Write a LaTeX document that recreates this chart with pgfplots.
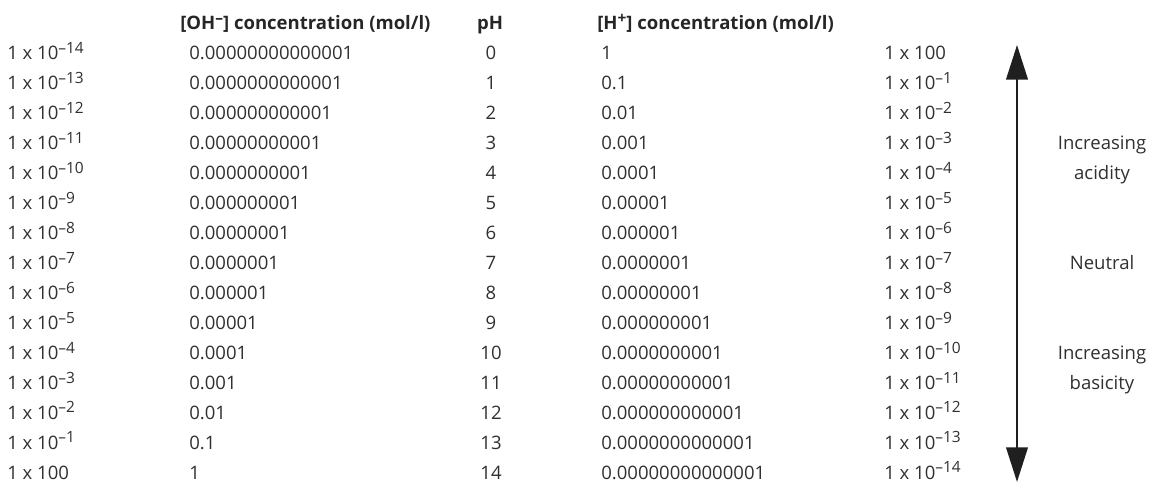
\documentclass[border=0pt]{standalone}
\usepackage{pgfplots}
\pgfplotsset{compat=1.18}
\usepackage{pgfplotstable}
\usepackage{fontspec}
\setmainfont{Open Sans}
\usetikzlibrary{arrows.meta}
\definecolor{txt}{HTML}{303030}
\definecolor{head}{HTML}{262626}
\newcommand{\sps}[1]{\raisebox{0.62ex}{\fontsize{11.6}{12}\selectfont #1}}

\pgfplotstableread[col sep=comma]{
ph,ohsci,ohdec,hdec,hsci
0,{1 x 10\sps{–14}},{0.00000000000001},{1},{1 x 100}
1,{1 x 10\sps{–13}},{0.0000000000001},{0.1},{1 x 10\sps{–1}}
2,{1 x 10\sps{–12}},{0.000000000001},{0.01},{1 x 10\sps{–2}}
3,{1 x 10\sps{–11}},{0.00000000001},{0.001},{1 x 10\sps{–3}}
4,{1 x 10\sps{–10}},{0.0000000001},{0.0001},{1 x 10\sps{–4}}
5,{1 x 10\sps{–9}},{0.000000001},{0.00001},{1 x 10\sps{–5}}
6,{1 x 10\sps{–8}},{0.00000001},{0.000001},{1 x 10\sps{–6}}
7,{1 x 10\sps{–7}},{0.0000001},{0.0000001},{1 x 10\sps{–7}}
8,{1 x 10\sps{–6}},{0.000001},{0.00000001},{1 x 10\sps{–8}}
9,{1 x 10\sps{–5}},{0.00001},{0.000000001},{1 x 10\sps{–9}}
10,{1 x 10\sps{–4}},{0.0001},{0.0000000001},{1 x 10\sps{–10}}
11,{1 x 10\sps{–3}},{0.001},{0.00000000001},{1 x 10\sps{–11}}
12,{1 x 10\sps{–2}},{0.01},{0.000000000001},{1 x 10\sps{–12}}
13,{1 x 10\sps{–1}},{0.1},{0.0000000000001},{1 x 10\sps{–13}}
14,{1 x 100},{1},{0.00000000000001},{1 x 10\sps{–14}}
}\phtable

\pgfplotstableread[col sep=comma]{
row,label
3,Increasing
4,acidity
7,Neutral
10,Increasing
11,basicity
}\sidetable

\begin{document}
\begin{tikzpicture}
\begin{axis}[
  scale only axis,
  x=0.75pt, y=22.47pt,
  xmin=0, xmax=1151, ymin=-1.769, ymax=14.553,
  y dir=reverse,
  hide axis, clip=false,
  point meta=explicit symbolic,
  every node near coord/.append style={font=\fontsize{13.9}{16}\selectfont, text=txt, inner sep=0pt},
]
\path (rel axis cs:0,0) rectangle (rel axis cs:1,1);

% column 1: [OH-] scientific
\addplot[draw=none, mark=none, nodes near coords,
  every node near coord/.append style={anchor=base west}]
  table[x expr=7, y expr=\thisrow{ph}+0.22, meta=ohsci] {\phtable};
% column 2: [OH-] decimal
\addplot[draw=none, mark=none, nodes near coords,
  every node near coord/.append style={anchor=base west}]
  table[x expr=189, y expr=\thisrow{ph}+0.22, meta=ohdec] {\phtable};
% column 3: pH
\addplot[draw=none, mark=none, nodes near coords,
  every node near coord/.append style={anchor=base}]
  table[x expr=491, y expr=\thisrow{ph}+0.22, meta=ph] {\phtable};
% column 4: [H+] decimal
\addplot[draw=none, mark=none, nodes near coords,
  every node near coord/.append style={anchor=base west}]
  table[x expr=601, y expr=\thisrow{ph}+0.22, meta=hdec] {\phtable};
% column 5: [H+] scientific
\addplot[draw=none, mark=none, nodes near coords,
  every node near coord/.append style={anchor=base west}]
  table[x expr=884, y expr=\thisrow{ph}+0.22, meta=hsci] {\phtable};
% side labels
\addplot[draw=none, mark=none, nodes near coords,
  every node near coord/.append style={anchor=base}]
  table[x expr=1102, y expr=\thisrow{row}+0.22, meta=label] {\sidetable};

% arrow
\addplot[line width=2.2pt, color=black!88,
  {Triangle[width=16pt,length=26pt]}-{Triangle[width=16pt,length=26pt]}]
  coordinates {(1017,-0.27) (1017,14.32)};

% headers
\node[anchor=base west, inner sep=0pt, text=head, font=\fontsize{13.9}{16}\selectfont\bfseries]
  at (axis cs:180,-0.78) {[OH\sps{–}] concentration (mol/l)};
\node[anchor=base, inner sep=0pt, text=head, font=\fontsize{13.9}{16}\selectfont\bfseries]
  at (axis cs:490,-0.78) {pH};
\node[anchor=base west, inner sep=0pt, text=head, font=\fontsize{13.9}{16}\selectfont\bfseries]
  at (axis cs:597,-0.78) {[H\sps{+}] concentration (mol/l)};
\end{axis}
\end{tikzpicture}
\end{document}
